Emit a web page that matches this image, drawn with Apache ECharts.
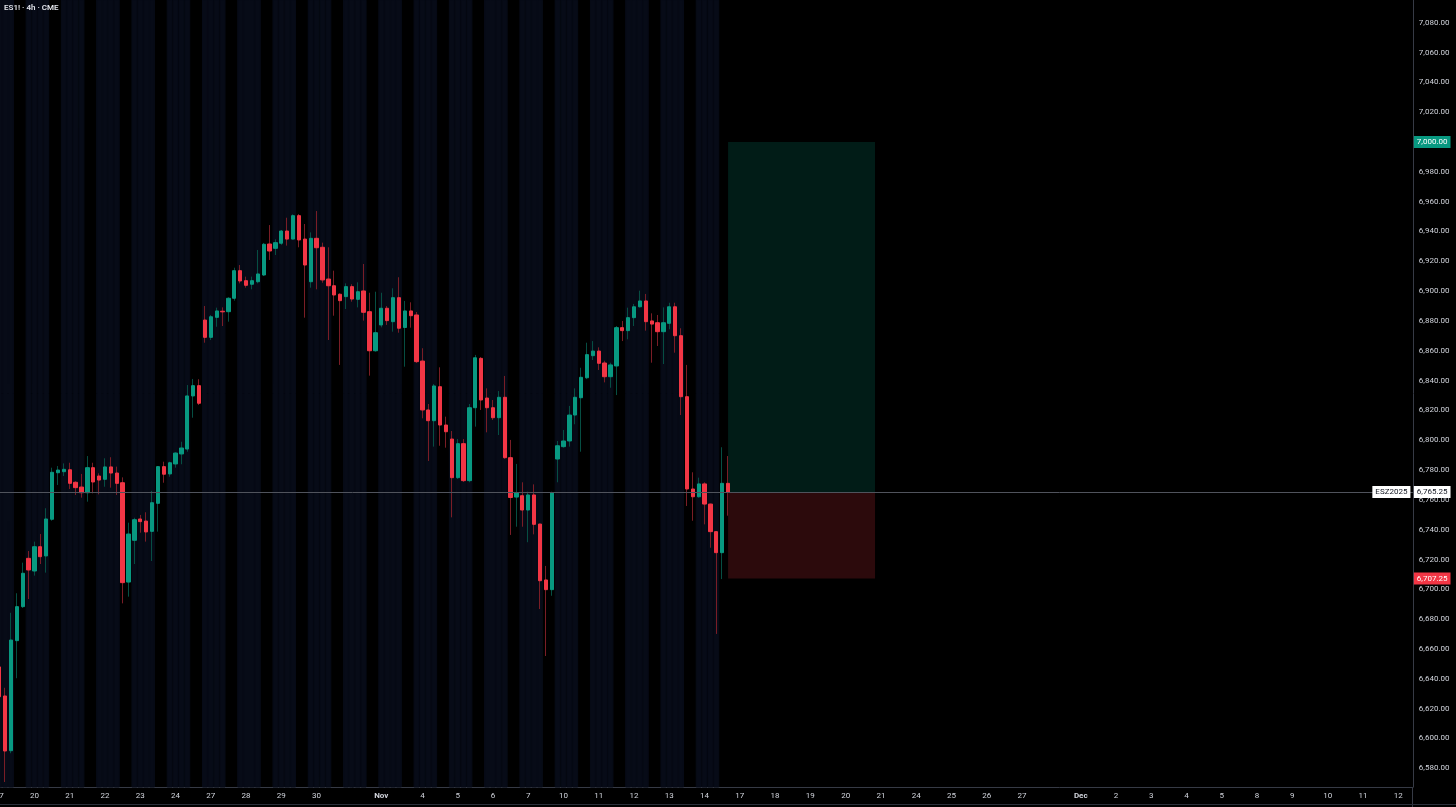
<!DOCTYPE html>
<html>
<head>
<meta charset="utf-8">
<script src="https://cdn.jsdelivr.net/npm/echarts@6/dist/echarts.min.js"></script>
<style>
html,body{margin:0;padding:0;background:#000;}
#chart{width:1456px;height:807px;}
</style>
</head>
<body>
<div id="chart"></div>
<script>
// ---- Data -------------------------------------------------------------
const symbolTitle = 'ES1! · 4h · CME';
const contractLabel = 'ESZ2025';

// calendar day, number of 4h slots opening that day, time-axis label
const calendar = [
  ['Oct 17', 5, '17'], ['Oct 19', 1, ''],
  ['Oct 20', 6, '20'], ['Oct 21', 6, '21'], ['Oct 22', 6, '22'], ['Oct 23', 6, '23'], ['Oct 24', 5, '24'], ['Oct 26', 1, ''],
  ['Oct 27', 6, '27'], ['Oct 28', 6, '28'], ['Oct 29', 6, '29'], ['Oct 30', 6, '30'], ['Oct 31', 5, ''], ['Nov 2', 1, 'Nov'],
  ['Nov 3', 6, ''], ['Nov 4', 6, '4'], ['Nov 5', 6, '5'], ['Nov 6', 6, '6'], ['Nov 7', 5, '7'], ['Nov 9', 1, ''],
  ['Nov 10', 6, '10'], ['Nov 11', 6, '11'], ['Nov 12', 6, '12'], ['Nov 13', 6, '13'], ['Nov 14', 5, '14'], ['Nov 16', 1, ''],
  ['Nov 17', 6, '17'], ['Nov 18', 6, '18'], ['Nov 19', 6, '19'], ['Nov 20', 6, '20'], ['Nov 21', 5, '21'], ['Nov 23', 1, ''],
  ['Nov 24', 6, '24'], ['Nov 25', 6, '25'], ['Nov 26', 6, '26'], ['Nov 27', 5, '27'], ['Nov 28', 4, ''], ['Nov 30', 1, ''],
  ['Dec 1', 6, 'Dec'], ['Dec 2', 6, '2'], ['Dec 3', 6, '3'], ['Dec 4', 6, '4'], ['Dec 5', 5, '5'], ['Dec 7', 1, ''],
  ['Dec 8', 6, '8'], ['Dec 9', 6, '9'], ['Dec 10', 6, '10'], ['Dec 11', 6, '11'], ['Dec 12', 3, '12']
];
const monthLabels = ['Nov', 'Dec'];

const open = [
  6648.0, 6628.5, 6591.8, 6665.6, 6688.4, 6720.8, 6712.3, 6728.6, 6722.4, 6747.0,
  6778.2, 6778.9, 6780.2, 6771.8, 6768.6, 6764.8, 6781.6, 6776.0, 6773.8, 6782.1,
  6778.0, 6771.5, 6704.9, 6732.9, 6747.2, 6745.8, 6738.9, 6757.7, 6782.3, 6777.4,
  6784.1, 6790.8, 6794.1, 6829.7, 6836.6, 6880.6, 6869.0, 6882.4, 6886.5, 6886.2,
  6895.2, 6913.7, 6907.0, 6904.6, 6906.3, 6910.8, 6931.6, 6928.7, 6932.1, 6940.3,
  6934.9, 6950.6, 6934.9, 6906.3, 6935.4, 6929.4, 6908.1, 6903.6, 6897.9, 6896.3,
  6903.0, 6894.5, 6900.1, 6886.2, 6860.0, 6877.3, 6888.5, 6879.5, 6895.6, 6875.6,
  6886.7, 6884.0, 6853.1, 6820.3, 6813.1, 6835.9, 6810.2, 6800.8, 6774.9, 6797.7,
  6772.9, 6821.8, 6854.9, 6828.3, 6821.8, 6815.1, 6828.8, 6788.3, 6761.9, 6762.8,
  6753.2, 6763.3, 6743.8, 6706.3, 6699.8, 6787.4, 6795.7, 6799.5, 6816.9, 6828.5,
  6841.9, 6856.7, 6859.8, 6851.8, 6842.6, 6849.8, 6875.5, 6873.5, 6882.2, 6889.5,
  6893.4, 6880.0, 6878.8, 6872.8, 6878.4, 6889.5, 6870.1, 6829.2, 6767.3, 6762.1,
  6770.7, 6757.2, 6738.7, 6724.6, 6771.1
];
const high = [
  6656.0, 6634.0, 6684.3, 6697.4, 6717.9, 6725.7, 6732.0, 6737.1, 6754.4, 6781.6,
  6782.7, 6784.5, 6784.9, 6772.5, 6777.4, 6789.4, 6784.9, 6777.8, 6787.9, 6788.6,
  6782.3, 6775.1, 6744.7, 6748.0, 6749.9, 6751.7, 6766.0, 6782.7, 6785.6, 6785.6,
  6791.9, 6799.0, 6837.0, 6841.1, 6840.9, 6890.0, 6884.0, 6888.9, 6889.1, 6895.9,
  6915.7, 6917.5, 6909.7, 6909.7, 6927.6, 6932.3, 6944.3, 6934.7, 6941.0, 6949.2,
  6951.5, 6951.7, 6945.0, 6939.4, 6953.7, 6932.5, 6929.4, 6913.7, 6898.5, 6905.2,
  6904.6, 6905.9, 6918.2, 6898.9, 6899.6, 6898.9, 6890.0, 6901.9, 6909.3, 6893.4,
  6892.5, 6886.0, 6861.7, 6824.3, 6837.7, 6848.9, 6815.8, 6806.2, 6800.8, 6800.8,
  6824.3, 6857.2, 6855.8, 6834.8, 6827.0, 6833.0, 6843.1, 6800.2, 6784.1, 6771.8,
  6765.5, 6770.4, 6744.0, 6715.7, 6765.5, 6799.5, 6806.9, 6823.0, 6834.8, 6848.6,
  6865.4, 6866.5, 6862.3, 6853.3, 6852.0, 6876.6, 6880.0, 6888.9, 6891.4, 6900.3,
  6898.1, 6885.1, 6884.0, 6889.1, 6892.2, 6892.2, 6875.1, 6850.5, 6778.5, 6774.9,
  6771.8, 6757.5, 6739.0, 6795.3, 6789.4
];
const low = [
  6625.8, 6570.8, 6590.1, 6640.4, 6687.5, 6693.5, 6709.2, 6717.0, 6711.2, 6746.0,
  6770.0, 6776.0, 6767.3, 6763.3, 6761.5, 6758.8, 6764.4, 6763.7, 6768.8, 6768.2,
  6763.3, 6690.6, 6695.1, 6717.0, 6738.0, 6732.0, 6719.0, 6738.7, 6771.5, 6775.5,
  6781.6, 6783.9, 6792.3, 6815.1, 6823.6, 6865.4, 6867.2, 6876.1, 6876.6, 6879.5,
  6893.6, 6905.2, 6902.3, 6901.2, 6905.2, 6910.1, 6920.9, 6924.2, 6931.0, 6930.5,
  6934.7, 6929.4, 6882.2, 6902.3, 6901.2, 6905.6, 6867.2, 6883.5, 6850.5, 6888.0,
  6892.9, 6889.1, 6880.2, 6843.3, 6859.4, 6875.7, 6877.3, 6872.8, 6872.1, 6849.3,
  6875.5, 6851.8, 6814.7, 6786.1, 6795.7, 6796.3, 6795.0, 6748.3, 6774.0, 6772.0,
  6771.8, 6809.1, 6820.3, 6805.3, 6813.6, 6803.5, 6787.5, 6736.5, 6742.0, 6742.0,
  6731.6, 6736.9, 6686.8, 6655.3, 6695.7, 6771.8, 6795.0, 6795.7, 6810.7, 6792.3,
  6841.0, 6853.8, 6847.1, 6838.8, 6835.2, 6830.3, 6866.5, 6867.7, 6876.6, 6889.0,
  6873.5, 6852.0, 6863.2, 6851.1, 6874.4, 6858.7, 6816.9, 6755.9, 6746.0, 6761.5,
  6743.6, 6727.9, 6670.1, 6706.9, 6749.4
];
const close = [
  6628.0, 6591.6, 6666.0, 6688.4, 6710.8, 6713.0, 6728.6, 6721.9, 6747.2, 6778.5,
  6780.0, 6780.5, 6771.1, 6768.2, 6764.8, 6781.6, 6772.0, 6773.3, 6782.1, 6778.0,
  6771.1, 6704.5, 6737.1, 6746.7, 6745.4, 6738.5, 6758.1, 6782.3, 6777.2, 6784.9,
  6791.4, 6794.8, 6829.7, 6836.6, 6824.8, 6869.0, 6882.8, 6886.7, 6886.1, 6895.2,
  6913.7, 6906.8, 6903.9, 6907.0, 6911.5, 6931.4, 6926.9, 6932.5, 6940.3, 6934.9,
  6950.6, 6934.3, 6917.5, 6935.4, 6929.1, 6907.5, 6903.6, 6897.4, 6893.6, 6903.0,
  6894.7, 6899.6, 6885.8, 6860.0, 6872.1, 6888.5, 6880.2, 6895.6, 6875.1, 6886.7,
  6883.5, 6852.7, 6820.3, 6813.1, 6836.4, 6810.2, 6805.7, 6774.9, 6797.7, 6772.9,
  6821.8, 6855.3, 6827.0, 6821.8, 6815.1, 6828.8, 6788.3, 6761.6, 6764.6, 6753.2,
  6763.3, 6743.6, 6705.8, 6699.8, 6764.6, 6796.3, 6799.5, 6816.9, 6828.8, 6842.2,
  6857.4, 6859.8, 6851.6, 6842.6, 6850.5, 6875.5, 6873.5, 6882.2, 6889.5, 6893.4,
  6879.5, 6877.9, 6872.8, 6878.8, 6889.5, 6870.1, 6829.2, 6767.3, 6762.1, 6770.7,
  6757.2, 6738.7, 6724.6, 6771.1, 6765.25
];

const lastPrice = 6765.25;
const targetPrice = 7000.00;
const stopPrice = 6707.25;
const positionLengthBars = 25;

// y range of the visible price scale
const priceMin = 6567.46;
const priceMax = 7095.22;

// ---- Build --------------------------------------------------------------
const categories = [], tickLabels = [], rthSlot = [];
calendar.forEach(([day, n, lab]) => {
  for (let k = 0; k < n; k++) {
    categories.push(day + ' #' + (k + 1));
    tickLabels.push(k === 0 ? lab : '');
    rthSlot.push(n > 1 && (k === 3 || k === 4));
  }
});
const nBars = open.length;
const sessionBand = categories.map((c, i) => (i < nBars && !rthSlot[i]) ? priceMax + 100 : '-');
const wickData = open.map((o, i) => [o, close[i], low[i], high[i]]);
const bodyData = open.map((o, i) => [o, close[i], Math.min(o, close[i]), Math.max(o, close[i])]);
const lastCat = categories[nBars - 1];
const endCat = categories[nBars - 1 + positionLengthBars];

const fmt = v => v.toLocaleString('en-US', {minimumFractionDigits: 2, maximumFractionDigits: 2});
const FONT = 'Roboto, "Liberation Sans", sans-serif';
const UP = '#089981', DOWN = '#f23645';
const textCol = '#d1d4dc';
const nCat = categories.length;
const slotW = 5.878;
const gridLeft = -0.8 - slotW / 2;
const gridRight = 1456 - (gridLeft + nCat * slotW);

const tagLabel = (txt, bg, fg) => ({
  show: true, position: 'end', distance: 1, formatter: txt,
  backgroundColor: bg, color: fg, padding: [2, 3, 1, 3],
  fontSize: 8, fontFamily: FONT, lineHeight: 9
});

const chart = echarts.init(document.getElementById('chart'), null, {renderer: 'canvas'});
chart.setOption({
  backgroundColor: '#000000',
  animation: false,
  title: {
    text: symbolTitle, left: 4, top: 4, padding: 0,
    textStyle: {color: '#e1e3ea', fontSize: 8, fontWeight: 600, fontFamily: FONT}
  },
  grid: {left: gridLeft, right: gridRight, top: 0, bottom: 20, containLabel: false, outerBoundsMode: 'none'},
  xAxis: {
    type: 'category', data: categories, boundaryGap: true,
    axisLine: {show: true, lineStyle: {color: '#363a45', width: 1}},
    axisTick: {show: false},
    splitLine: {show: false},
    axisLabel: {
      interval: 0, margin: 5, color: textCol, fontSize: 8, fontFamily: FONT,
      formatter: (v, i) => {
        const t = tickLabels[i] || '';
        return monthLabels.includes(t) ? '{m|' + t + '}' : t;
      },
      rich: {m: {fontWeight: 'bold', fontSize: 8, color: textCol, fontFamily: FONT}}
    }
  },
  yAxis: {
    type: 'value', position: 'right', scale: true,
    min: priceMin, max: priceMax, splitNumber: 26, minInterval: 20, maxInterval: 20,
    axisLine: {show: true, lineStyle: {color: '#363a45', width: 1}},
    axisTick: {show: false},
    splitLine: {show: false},
    axisLabel: {
      margin: 6, color: textCol, fontSize: 8, fontFamily: FONT,
      showMinLabel: false, showMaxLabel: false,
      formatter: v => (Math.abs(v / 20 - Math.round(v / 20)) < 1e-6) ? fmt(v) : ''
    }
  },
  graphic: [
    {type: 'line', shape: {x1: 1412.5, y1: 787, x2: 1412.5, y2: 807}, style: {stroke: '#363a45', lineWidth: 1}, silent: true},
    {type: 'line', shape: {x1: 0, y1: 804.5, x2: 1456, y2: 804.5}, style: {stroke: '#2a2e39', lineWidth: 1}, silent: true}
  ],
  series: [
    {
      name: 'session', type: 'bar', data: sessionBand, barCategoryGap: '0%', barGap: '0%',
      itemStyle: {color: '#070b17', borderColor: '#070b17', borderWidth: 1},
      silent: true, z: 0, clip: true
    },
    {
      name: 'wicks', type: 'candlestick', data: wickData, barWidth: 1, z: 2, silent: true,
      itemStyle: {color: '#064e43', color0: '#7a1d26', borderColor: '#064e43', borderColor0: '#7a1d26', borderWidth: 1}
    },
    {
      name: 'ES1!', type: 'candlestick', data: bodyData, barWidth: 3.8, z: 3, silent: true,
      itemStyle: {color: UP, color0: DOWN, borderColor: UP, borderColor0: DOWN, borderWidth: 1},
      markArea: {
        silent: true,
        data: [
          [{xAxis: lastCat, yAxis: targetPrice, itemStyle: {color: 'rgba(8,153,129,0.18)'}}, {xAxis: endCat, yAxis: lastPrice}],
          [{xAxis: lastCat, yAxis: lastPrice, itemStyle: {color: 'rgba(242,54,69,0.18)'}}, {xAxis: endCat, yAxis: stopPrice}]
        ]
      },
      markLine: {
        silent: true, symbol: ['none', 'none'], animation: false,
        data: [
          {yAxis: lastPrice, lineStyle: {color: '#50535c', width: 1, type: 'solid'}, label: tagLabel(fmt(lastPrice), '#ffffff', '#131722')},
          {yAxis: targetPrice, lineStyle: {color: 'rgba(0,0,0,0)', width: 0}, label: tagLabel(fmt(targetPrice), UP, '#ffffff')},
          {yAxis: stopPrice, lineStyle: {color: 'rgba(0,0,0,0)', width: 0}, label: tagLabel(fmt(stopPrice), DOWN, '#ffffff')}
        ]
      },
      markPoint: {
        silent: true,
        data: [{
          coord: [categories[nCat - 1], lastPrice], symbol: 'rect', symbolSize: 1,
          itemStyle: {color: 'rgba(0,0,0,0)'},
          label: {show: true, position: 'left', distance: -1, formatter: contractLabel,
                  backgroundColor: '#ffffff', color: '#131722', padding: [2, 3, 1, 3],
                  fontSize: 8, fontFamily: FONT, lineHeight: 9}
        }]
      }
    }
  ]
});
</script>
</body>
</html>
